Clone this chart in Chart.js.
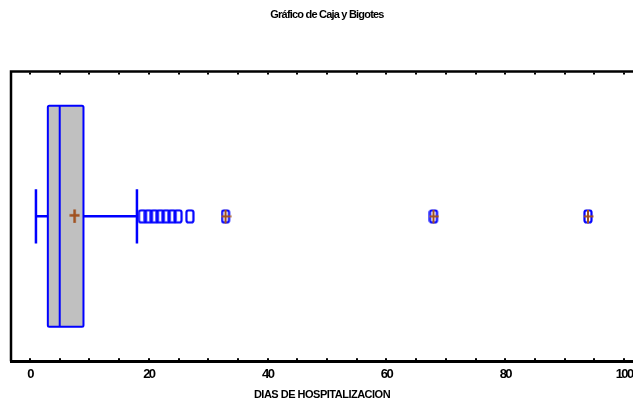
<!DOCTYPE html>
<html>
<head>
<meta charset="utf-8">
<script src="https://cdn.jsdelivr.net/npm/chart.js@4/dist/chart.umd.min.js"></script>
<style>
  html, body { margin: 0; padding: 0; background: #ffffff; }
  canvas { display: block; }
</style>
</head>
<body>
<canvas id="chart" width="633" height="402"></canvas>
<script>
// Hospital stay (days): box-and-whisker summary
const chartTitle = 'Gráfico de Caja y Bigotes';
const axisTitle = 'DIAS DE HOSPITALIZACION';
const tickLabels = [0, 20, 40, 60, 80, 100];
const minorTicks = [0, 5, 10, 15, 20, 25, 30, 35, 40, 45, 50, 55, 60, 65, 70, 75, 80, 85, 90, 95, 100];
const whiskerEnds = [1, 18];
const quartiles = [3, 9];
const medianValue = [5];
const meanValue = [7.5];
const outliers = [19, 20, 21, 22, 23, 24, 25, 27];
const farOutliers = [33, 68, 94];

const FONT = '"Liberation Sans", Arial, sans-serif';
const BLUE = '#0000ff';
const BROWN = '#a0501e';
const BOX_HALF = 0.763;   // half height of the box, in y units
const CAP_HALF = 0.187;   // half height of the whisker caps

// Marker images for point styles
function outlierMarker(withPlus) {
  const c = document.createElement('canvas');
  c.width = 11; c.height = 15;
  const g = c.getContext('2d');
  g.strokeStyle = BLUE;
  g.lineWidth = 2.2;
  g.beginPath();
  g.roundRect(1.5, 1.5, 7, 12, 2);
  g.stroke();
  if (withPlus) {
    g.strokeStyle = BROWN;
    g.lineWidth = 2;
    g.beginPath();
    g.moveTo(1, 7.5); g.lineTo(10.5, 7.5);
    g.moveTo(5, 1); g.lineTo(5, 14.5);
    g.stroke();
  }
  return c;
}
function meanMarker() {
  const c = document.createElement('canvas');
  c.width = 11; c.height = 15;
  const g = c.getContext('2d');
  g.strokeStyle = BROWN;
  g.lineWidth = 2.5;
  g.beginPath();
  g.moveTo(0.5, 6.5); g.lineTo(10.5, 6.5);
  g.moveTo(5.5, 0.5); g.lineTo(5.5, 14);
  g.stroke();
  return c;
}

// Let the plot run to the right edge of the canvas
const fullWidthPlugin = {
  id: 'fullWidth',
  afterLayout(chart) {
    const a = chart.chartArea;
    const x = chart.scales.x;
    a.right = chart.width;
    a.width = a.right - a.left;
    x.right = chart.width;
    x.width = x.right - x.left;
    x.configure();
  }
};

// Tight lettering: axis title in the base layer, tick labels in a later layer
const letterPlugin = {
  id: 'lettering',
  beforeDraw(chart) { chart.ctx.letterSpacing = '-0.5px'; },
  afterDatasetsDraw(chart) { chart.ctx.letterSpacing = '-1.6px'; },
  afterDraw(chart) { chart.ctx.letterSpacing = '0px'; }
};

// Box, median and whiskers drawn from the summary values via the chart scales
const boxPlugin = {
  id: 'boxPlot',
  beforeDatasetsDraw(chart) {
    const { ctx, scales: { x, y } } = chart;
    const yc = y.getPixelForValue(0);
    const yTop = y.getPixelForValue(BOX_HALF);
    const yBot = y.getPixelForValue(-BOX_HALF);
    const cTop = y.getPixelForValue(CAP_HALF);
    const cBot = y.getPixelForValue(-CAP_HALF);
    const xw0 = x.getPixelForValue(whiskerEnds[0]);
    const xw1 = x.getPixelForValue(whiskerEnds[1]);
    const xq1 = x.getPixelForValue(quartiles[0]);
    const xq3 = x.getPixelForValue(quartiles[1]);
    const xm = x.getPixelForValue(medianValue[0]);
    ctx.save();
    ctx.strokeStyle = BLUE;
    ctx.lineWidth = 2.5;
    ctx.beginPath();
    ctx.moveTo(xw0, yc); ctx.lineTo(xq1, yc);
    ctx.moveTo(xq3, yc); ctx.lineTo(xw1, yc);
    ctx.moveTo(xw0, cTop); ctx.lineTo(xw0, cBot);
    ctx.moveTo(xw1, cTop); ctx.lineTo(xw1, cBot);
    ctx.stroke();
    ctx.fillStyle = '#c0c0c0';
    ctx.lineWidth = 2;
    ctx.beginPath();
    ctx.roundRect(xq1, yTop, xq3 - xq1, yBot - yTop, 1.5);
    ctx.fill();
    ctx.stroke();
    ctx.beginPath();
    ctx.moveTo(xm, yTop); ctx.lineTo(xm, yBot);
    ctx.stroke();
    ctx.restore();
  }
};

// Frame: top and left borders plus small inward tick marks, and the heading
const framePlugin = {
  id: 'frame',
  afterDraw(chart) {
    const { ctx, chartArea: a, scales: { x } } = chart;
    ctx.save();
    ctx.strokeStyle = '#000';
    ctx.lineWidth = 2.5;
    ctx.beginPath();
    ctx.moveTo(a.left, a.top); ctx.lineTo(a.right, a.top);
    ctx.moveTo(a.left, a.top - 1.25); ctx.lineTo(a.left, a.bottom);
    ctx.stroke();
    ctx.fillStyle = '#000';
    minorTicks.forEach(v => {
      const px = Math.round(x.getPixelForValue(v));
      ctx.fillRect(px - 1, a.top + 1, 2, 2);
      ctx.fillRect(px - 1, a.bottom - 3, 2, 2);
    });
    ctx.letterSpacing = '-0.8px';
    ctx.font = 'bold 11px ' + FONT;
    ctx.textAlign = 'center';
    ctx.textBaseline = 'middle';
    ctx.fillText(chartTitle, 327, 15);
    ctx.restore();
  }
};

new Chart(document.getElementById('chart'), {
  type: 'scatter',
  data: {
    datasets: [
      {
        label: 'Media',
        data: meanValue.map(v => ({ x: v, y: 0 })),
        pointStyle: meanMarker(),
        pointRadius: 6
      },
      {
        label: 'Atípicos',
        data: outliers.map(v => ({ x: v, y: 0 })),
        pointStyle: outlierMarker(false),
        pointRadius: 6
      },
      {
        label: 'Atípicos lejanos',
        data: farOutliers.map(v => ({ x: v, y: 0 })),
        pointStyle: outlierMarker(true),
        pointRadius: 6
      }
    ]
  },
  options: {
    responsive: false,
    animation: false,
    layout: { padding: { top: 71.5, left: 11, right: 0, bottom: 0 } },
    plugins: {
      legend: { display: false },
      title: { display: false },
      tooltip: { enabled: false }
    },
    scales: {
      x: {
        type: 'linear',
        min: -3.2,
        max: 101.5,
        afterBuildTicks: s => { s.ticks = tickLabels.map(v => ({ value: v })); },
        grid: { display: false, drawTicks: false },
        border: { display: true, color: '#000', width: 3 },
        ticks: {
          z: 1,
          autoSkip: false,
          maxRotation: 0,
          padding: 5,
          color: '#000',
          font: { family: FONT, size: 13, weight: 'bold' }
        },
        title: {
          display: true,
          text: axisTitle,
          color: '#000',
          padding: { top: 2, bottom: 0 },
          font: { family: FONT, size: 11, weight: 'bold' }
        }
      },
      y: {
        type: 'linear',
        min: -1,
        max: 1,
        display: false
      }
    }
  },
  plugins: [fullWidthPlugin, letterPlugin, boxPlugin, framePlugin]
});
</script>
</body>
</html>
